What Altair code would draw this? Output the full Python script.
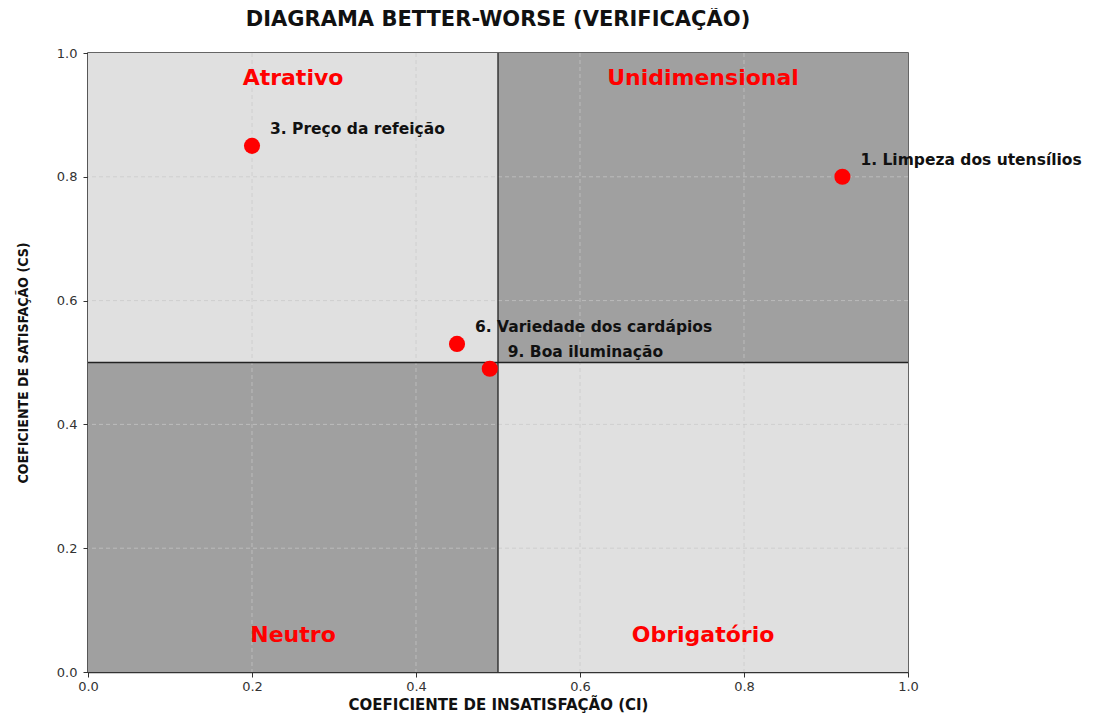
import altair as alt
import pandas as pd

# ---- data ----
point_labels = ["1. Limpeza dos utensílios", "3. Preço da refeição",
                "6. Variedade dos cardápios", "9. Boa iluminação"]
ci_values = [0.92, 0.20, 0.45, 0.49]
cs_values = [0.80, 0.85, 0.53, 0.49]

quadrant_names = ["Atrativo", "Unidimensional", "Neutro", "Obrigatório"]
quad_x0 = [0.0, 0.5, 0.0, 0.5]
quad_x1 = [0.5, 1.0, 0.5, 1.0]
quad_y0 = [0.5, 0.5, 0.0, 0.0]
quad_y1 = [1.0, 1.0, 0.5, 0.5]
quad_tone = ["claro", "escuro", "escuro", "claro"]
quad_label_y = [0.96, 0.96, 0.06, 0.06]

grid_ticks = [0.2, 0.4, 0.6, 0.8]
axis_ticks = [0.0, 0.2, 0.4, 0.6, 0.8, 1.0]
divider = [0.5]

FONT = "DejaVu Sans"

pts = pd.DataFrame({"ci": ci_values, "cs": cs_values, "label": point_labels})
quads = pd.DataFrame({"name": quadrant_names, "x0": quad_x0, "x1": quad_x1,
                      "y0": quad_y0, "y1": quad_y1, "tone": quad_tone,
                      "ly": quad_label_y})
quads["lx"] = (quads["x0"] + quads["x1"]) / 2
grid = pd.DataFrame({"v": grid_ticks})
div = pd.DataFrame({"v": divider})

xscale = alt.Scale(domain=[0, 1], nice=False, zero=True)
yscale = alt.Scale(domain=[0, 1], nice=False, zero=True)

xaxis = alt.Axis(title="COEFICIENTE DE INSATISFAÇÃO (CI)", values=axis_ticks, format=".1f",
                 titleFont=FONT, titleFontSize=15, titleFontWeight="bold", titleColor="#111",
                 titlePadding=4, labelFlush=False)
yaxis = alt.Axis(title="COEFICIENTE DE SATISFAÇÃO (CS)", values=axis_ticks, format=".1f",
                 titleFont="DejaVu Sans Condensed, Liberation Sans, sans-serif", titleFontSize=14,
                 titleFontWeight="bold", titleColor="#111", titlePadding=26, labelPadding=6,
                 labelFlush=False)

rects = alt.Chart(quads).mark_rect(stroke=None).encode(
    x=alt.X("x0:Q", scale=xscale, axis=xaxis),
    x2="x1:Q",
    y=alt.Y("y0:Q", scale=yscale, axis=yaxis),
    y2="y1:Q",
    fill=alt.Fill("tone:N", scale=alt.Scale(domain=["claro", "escuro"],
                                            range=["#e0e0e0", "#a0a0a0"]), legend=None),
)

gridx = alt.Chart(grid).mark_rule(color="#c8c8c8", strokeDash=[4, 3], strokeWidth=1, opacity=0.7).encode(
    x=alt.X("v:Q", scale=xscale))
gridy = alt.Chart(grid).mark_rule(color="#c8c8c8", strokeDash=[4, 3], strokeWidth=1, opacity=0.7).encode(
    y=alt.Y("v:Q", scale=yscale))

divx = alt.Chart(div).mark_rule(color="#222", strokeWidth=1.3).encode(x=alt.X("v:Q", scale=xscale))
divy = alt.Chart(div).mark_rule(color="#222", strokeWidth=1.3).encode(y=alt.Y("v:Q", scale=yscale))

qlabels = alt.Chart(quads).mark_text(color="#ff0000", font=FONT, fontWeight="bold", fontSize=22,
                                     baseline="middle", align="center").encode(
    x=alt.X("lx:Q", scale=xscale), y=alt.Y("ly:Q", scale=yscale), text="name:N")

points = alt.Chart(pts).mark_circle(size=260, color="#ff0000", opacity=1).encode(
    x=alt.X("ci:Q", scale=xscale), y=alt.Y("cs:Q", scale=yscale))

plabels = alt.Chart(pts).mark_text(align="left", baseline="middle", dx=18, dy=-17, font=FONT,
                                   fontWeight="bold", fontSize=15.5, color="#111").encode(
    x=alt.X("ci:Q", scale=xscale), y=alt.Y("cs:Q", scale=yscale), text="label:N")

chart = alt.layer(rects, gridx, gridy, divx, divy, qlabels, points, plabels).properties(
    width=820, height=619,
    title=alt.Title("DIAGRAMA BETTER-WORSE (VERIFICAÇÃO)", font=FONT, fontSize=21,
                    fontWeight="bold", color="#111", anchor="middle", offset=17),
    autosize=alt.AutoSizeParams(type="none"),
    padding={"left": 80, "top": 45, "right": 188, "bottom": 44},
).configure_view(stroke="#333", strokeWidth=1.5).configure_axis(
    grid=False, ticks=True, tickSize=5, tickColor="#333", domainColor="#333", domainWidth=1.5,
    labelColor="#333", labelFont=FONT, labelFontSize=13, labelPadding=3,
)

chart.save("out.html", embed_options={"renderer": "svg", "actions": False})
